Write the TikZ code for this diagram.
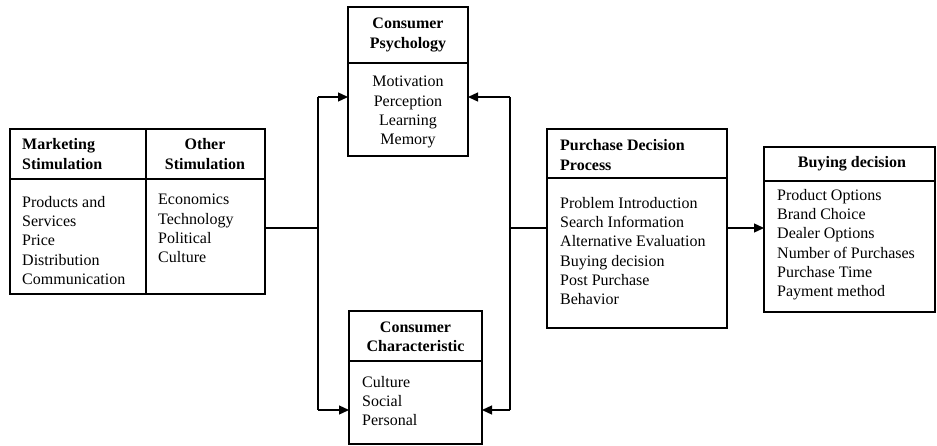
\documentclass[tikz,border=0pt]{standalone}
\usepackage{fontspec}
\setmainfont{Liberation Serif}
\usetikzlibrary{arrows.meta}
\begin{document}
\begin{tikzpicture}[x=1pt,y=-1pt,
  boxpart/.style={draw, line width=1.3pt, inner sep=0pt, outer sep=0pt, anchor=north west},
  txt/.style={inner sep=0pt, font=\fontsize{16}{19.3}\selectfont, align=left, anchor=north west},
  ctxt/.style={inner sep=0pt, font=\fontsize{16}{19.3}\selectfont, align=center, anchor=north},
  hd/.style={inner sep=0pt, font=\fontsize{16}{19.3}\selectfont\bfseries},
  link/.style={line width=1.3pt},
  thicklink/.style={line width=2.4pt},
  arr/.style={line width=1.3pt, -{Triangle[length=10pt,width=9pt]}}
]
\useasboundingbox (0,0) rectangle (937,445);

% Marketing / Other stimulation
\node[boxpart, minimum width=136pt, minimum height=50pt] (mh) at (10,129) {};
\node[boxpart, minimum width=136pt, minimum height=115pt] (mb) at (10,179) {};
\node[boxpart, minimum width=119pt, minimum height=50pt] (oh) at (146,129) {};
\node[boxpart, minimum width=119pt, minimum height=115pt] (ob) at (146,179) {};
\draw[line width=2.2pt] (oh.north west) -- (ob.south west);
\node[hd, align=left, anchor=west] (mht) at (22,154) {Marketing\\Stimulation};
\node[txt] (mbt) at (22,196) {Products and\\Services\\Price\\Distribution\\Communication};
\node[hd, align=center] (oht) at (205,154) {Other\\Stimulation};
\node[txt] (obt) at (158,194) {Economics\\Technology\\Political\\Culture};

% Consumer Psychology
\node[boxpart, minimum width=120pt, minimum height=56pt] (ph) at (348,7) {};
\node[boxpart, minimum width=120pt, minimum height=93pt] (pb) at (348,63) {};
\node[hd, align=center] (pht) at (408,35) {Consumer\\Psychology};
\node[ctxt] (pbt) at (408,76) {Motivation\\Perception\\Learning\\Memory};

% Consumer Characteristic
\node[boxpart, minimum width=133pt, minimum height=50pt] (ch) at (349,311) {};
\node[boxpart, minimum width=133pt, minimum height=83pt] (cb) at (349,361) {};
\node[hd, align=center] (cht) at (415.5,337) {Consumer\\Characteristic};
\node[txt] (cbt) at (362,376) {Culture\\Social\\Personal};

% Purchase Decision Process
\node[boxpart, minimum width=180pt, minimum height=49pt] (uh) at (547,129) {};
\node[boxpart, minimum width=180pt, minimum height=150pt] (ub) at (547,178) {};
\node[hd, align=left, anchor=west] (uht) at (560,155) {Purchase Decision\\Process};
\node[txt] (ubt) at (560,197) {Problem Introduction\\Search Information\\Alternative Evaluation\\Buying decision\\Post Purchase\\Behavior};

% Buying decision
\node[boxpart, minimum width=171pt, minimum height=34pt] (bh) at (764,147) {};
\node[boxpart, minimum width=171pt, minimum height=131pt] (bb) at (764,181) {};
\node[hd] (bht) at (852,164) {Buying decision};
\node[txt] (bbt) at (777,189) {Product Options\\Brand Choice\\Dealer Options\\Number of Purchases\\Purchase Time\\Payment method};

% Connectors
\coordinate (jl) at (318,228);
\coordinate (lt) at (318,97);
\coordinate (lb) at (318,410);
\coordinate (rt) at (510,97);
\coordinate (rb) at (510,410);
\coordinate (rj) at (510,228);

\draw[thicklink] (ob.east |- jl) -- (jl);
\draw[link] (lt) -- (lb);
\draw[arr] (lt) -- (pb.west |- lt);
\draw[arr] (lb) -- (cb.west |- lb);
\draw[link] (rt) -- (rb);
\draw[arr] (rt) -- (pb.east |- rt);
\draw[arr] (rb) -- (cb.east |- rb);
\draw[link] (rj) -- (ub.west |- rj);
\draw[arr] (ub.east |- rj) -- (bb.west |- rj);
\end{tikzpicture}
\end{document}
